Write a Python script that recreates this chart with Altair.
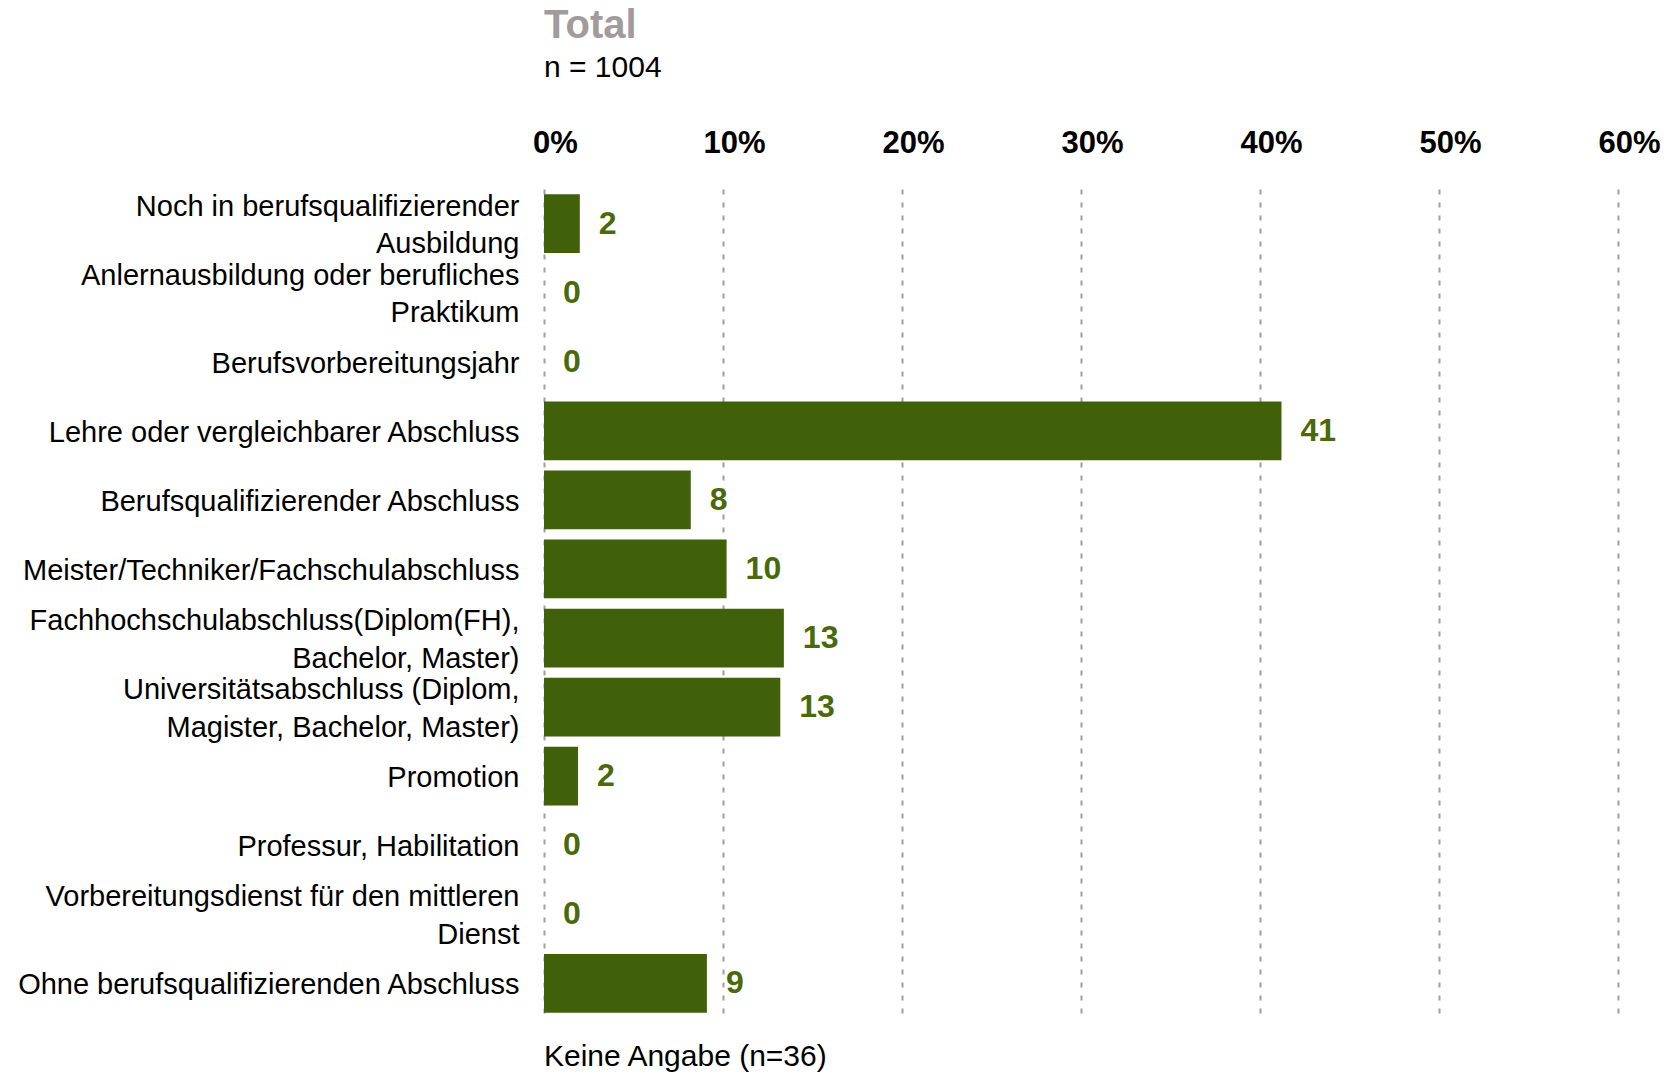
import altair as alt
import pandas as pd

categories = [
    "Noch in berufsqualifizierender|Ausbildung",
    "Anlernausbildung oder berufliches|Praktikum",
    "Berufsvorbereitungsjahr",
    "Lehre oder vergleichbarer Abschluss",
    "Berufsqualifizierender Abschluss",
    "Meister/Techniker/Fachschulabschluss",
    "Fachhochschulabschluss(Diplom(FH),|Bachelor, Master)",
    "Universitätsabschluss (Diplom,|Magister, Bachelor, Master)",
    "Promotion",
    "Professur, Habilitation",
    "Vorbereitungsdienst für den mittleren|Dienst",
    "Ohne berufsqualifizierenden Abschluss",
]
values = [2.0, 0.0, 0.0, 41.2, 8.2, 10.2, 13.4, 13.2, 1.9, 0.0, 0.0, 9.1]
labels = ["2", "0", "0", "41", "8", "10", "13", "13", "2", "0", "0", "9"]
x_ticks = [0, 10, 20, 30, 40, 50, 60]
title_text = "Total"
subtitle_text = "n = 1004"
footer_text = "Keine Angabe (n=36)"

df = pd.DataFrame({"cat": categories, "val": values, "lab": labels})

FONT = "Liberation Sans"
BAR = "#41600a"
TXT = "#4a6a0a"
W, H = 1074, 829

base = alt.Chart(df)

bars = base.mark_bar(color=BAR).encode(
    y=alt.Y(
        "cat:N",
        sort=categories,
        title=None,
        scale=alt.Scale(paddingInner=0.15, paddingOuter=0.075),
        axis=alt.Axis(
            labelExpr="split(datum.label, '|')",
            labelFont=FONT,
            labelFontSize=29,
            labelColor="black",
            labelLineHeight=37.5,
            labelPadding=25,
            labelLimit=600,
            labelOffset={
                "condition": {"test": "indexof(datum.value, '|') >= 0", "value": -17},
                "value": 2,
            },
            domain=False,
            ticks=False,
            grid=False,
        ),
    ),
    x=alt.X(
        "val:Q",
        title=None,
        scale=alt.Scale(domain=[0, 60], nice=False),
        axis=alt.Axis(
            orient="top",
            values=x_ticks,
            labelExpr="datum.value + '%'",
            labelFont=FONT,
            labelFontSize=31,
            labelFontWeight="bold",
            labelColor="black",
            labelPadding=30,
            labelOffset=11,
            labelFlush=False,
            domain=False,
            ticks=False,
            grid=True,
            gridColor="#a0a0a0",
            gridDash=[5, 8],
            gridWidth=2,
        ),
    ),
)

text = base.mark_text(
    align="left", baseline="middle", dx=19, font=FONT, fontSize=32,
    fontWeight="bold", color=TXT,
).encode(
    y=alt.Y("cat:N", sort=categories),
    x=alt.X("val:Q"),
    text="lab:N",
)

footer = alt.Chart(pd.DataFrame({"t": [footer_text]})).mark_text(
    align="left", baseline="middle", font=FONT, fontSize=30, color="black",
).encode(
    x=alt.value(0),
    y=alt.value(H + 39),
    text="t:N",
)

chart = alt.layer(bars, text, footer).properties(
    width=W,
    height=H,
    title=alt.TitleParams(
        text=title_text,
        subtitle=subtitle_text,
        anchor="start",
        frame="group",
        font=FONT,
        fontSize=40,
        fontWeight="bold",
        color="#a39b9b",
        subtitleFont=FONT,
        subtitleFontSize=30,
        subtitleColor="black",
        subtitlePadding=7,
        offset=44,
    ),
    autosize=alt.AutoSizeParams(type="none"),
    padding={"left": 536, "top": 181, "right": 45, "bottom": 57},
).configure(background="white").configure_view(stroke=None)

chart.save("out.html", embed_options={"renderer": "svg", "actions": False})
